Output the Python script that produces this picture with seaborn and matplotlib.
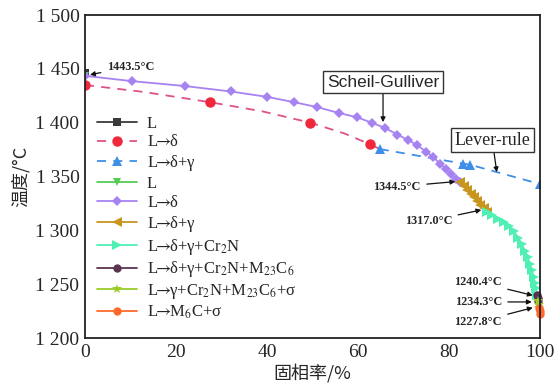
import matplotlib
matplotlib.use("Agg")
import matplotlib.pyplot as plt
import seaborn as sns
import pandas as pd

sns.set_style("white")
plt.rcParams["font.family"] = ["Liberation Serif", "DejaVu Serif"]
plt.rcParams["mathtext.fontset"] = "stix"

# Lever-rule path
lever_d_fs = [0, 13, 27.5, 39, 49.5, 57, 62.6, 64.8]
lever_d_T = [1435, 1428.5, 1419, 1410.5, 1400, 1390, 1380, 1375.5]
lever_dg_fs = [64.8, 83.0, 84.6, 100]
lever_dg_T = [1375.5, 1362, 1361, 1343]

# Scheil-Gulliver path
scheil_L_fs = [0]
scheil_L_T = [1446]
scheil_L2_fs = [0]
scheil_L2_T = [1443.5]
scheil_d_fs = [0, 10.3, 22, 32, 40, 46, 51, 55.8, 59.8, 63, 66, 68.6, 71, 73, 75,
               76.5, 78, 79.3, 80.5, 81.5, 82.4]
scheil_d_T = [1443.5, 1438.6, 1434, 1429, 1424, 1419, 1414.5, 1409, 1405, 1400,
              1395, 1389, 1384, 1379, 1373, 1368, 1362, 1357, 1352, 1348, 1344.5]
scheil_dg_fs = [82.4, 83.2, 84.0, 84.8, 85.5, 86.2, 86.9, 87.6, 88.3]
scheil_dg_T = [1344.5, 1341, 1337.5, 1334, 1331, 1327.5, 1324, 1320.5, 1317.0]
scheil_cr2n_fs = [88.3, 89.5, 90.8, 92.0, 93.2, 94.3, 95.2, 96.0, 96.7, 97.3,
                  97.8, 98.2, 98.6, 98.9, 99.1, 99.3]
scheil_cr2n_T = [1317.0, 1314, 1311, 1308, 1304, 1299, 1293, 1287, 1281, 1275,
                 1269, 1263, 1257, 1251, 1246, 1240.4]
scheil_m23_fs = [99.3, 99.45, 99.6]
scheil_m23_T = [1240.4, 1237.3, 1234.3]
scheil_sig_fs = [99.6, 99.7, 99.8]
scheil_sig_T = [1234.3, 1231.0, 1227.8]
scheil_m6c_fs = [99.8, 99.9, 100]
scheil_m6c_T = [1227.8, 1225, 1222]

y_ticks = [1200, 1250, 1300, 1350, 1400, 1450, 1500]
y_labels = ["1 200", "1 250", "1 300", "1 350", "1 400", "1 450", "1 500"]
x_ticks = [0, 20, 40, 60, 80, 100]

fig = plt.figure(figsize=(5.57, 3.90), dpi=100)
ax = fig.add_axes([0.1526, 0.1333, 0.8169, 0.8282])

AR = r"$\!\!\rightarrow\!\!$"
series = [
    (scheil_L_fs, scheil_L_T, "L", "#3a3a3a", "-", "s", 6, None, True),
    (lever_d_fs, lever_d_T, f"L{AR}δ", "#e0508a", (0, (5, 4)), "o", 7.5, [0, 2, 4, 6], True),
    (lever_dg_fs, lever_dg_T, f"L{AR}δ+γ", "#3f8fe8", (0, (5, 4)), "^", 7, None, True),
    (scheil_L2_fs, scheil_L2_T, "L", "#55cc55", "-", "v", 6, None, True),
    (scheil_d_fs, scheil_d_T, f"L{AR}δ", "#a783f2", "-", "D", 5.5, None, True),
    (scheil_dg_fs, scheil_dg_T, f"L{AR}δ+γ", "#c8961e", "-", "<", 6.5, None, True),
    (scheil_cr2n_fs, scheil_cr2n_T, f"L{AR}δ+γ+Cr$_2$N", "#50f0b4", "-", ">", 6.5, None, True),
    (scheil_m23_fs, scheil_m23_T, f"L{AR}δ+γ+Cr$_2$N+M$_{{23}}$C$_6$", "#5a3552", "-", "o", 6, None, False),
    (scheil_sig_fs, scheil_sig_T, f"L{AR}γ+Cr$_2$N+M$_{{23}}$C$_6$+σ", "#9ccc2a", "-", "*", 7, None, False),
    (scheil_m6c_fs, scheil_m6c_T, f"L{AR}M$_6$C+σ", "#ff6a2a", "-", "o", 6, None, False),
]

for fs, T, lab, col, ls, mk, ms, every, clip in series:
    df = pd.DataFrame({"fs": fs, "T": T})
    mfc = "#f0283c" if col == "#e0508a" else col
    kw = dict(marker=mk, markersize=ms, markerfacecolor=mfc, markeredgecolor=mfc,
              markeredgewidth=0, linewidth=1.3, clip_on=clip)
    if every is not None:
        kw["markevery"] = every
    sns.lineplot(data=df, x="fs", y="T", ax=ax, color=col, linestyle=ls,
                 label=lab, sort=False, estimator=None, **kw)

ax.set_xlim(0, 100)
ax.set_ylim(1200, 1500)
ax.set_xticks(x_ticks)
ax.set_xticklabels([str(v) for v in x_ticks])
ax.set_yticks(y_ticks)
ax.set_yticklabels(y_labels)
ax.tick_params(direction="in", length=4, width=1.2, labelsize=14, pad=4)
for sp in ax.spines.values():
    sp.set_linewidth(1.3)
    sp.set_color("#222222")

ax.set_xlabel("固相率/%", fontsize=13, family=["Noto Sans CJK SC", "DejaVu Sans"], labelpad=2)
ax.set_ylabel("温度/°C", fontsize=13, family=["Noto Sans CJK SC", "DejaVu Sans"], labelpad=4)

leg = ax.legend(loc="upper left", bbox_to_anchor=(0.0, 0.725), frameon=False,
                fontsize=12, handlelength=2.4, labelspacing=0.17, handletextpad=0.6,
                borderaxespad=0.3)

arrow = dict(arrowstyle="-|>", color="#111111", lw=0.9, mutation_scale=7)
ann_font = dict(fontsize=8.8, fontweight="bold")

ax.annotate("1443.5°C", xy=(0.5, 1444), xytext=(4.8, 1452), ha="left", va="center",
            arrowprops=arrow, **ann_font)
ax.annotate("1344.5°C", xy=(82.0, 1345.5), xytext=(73.8, 1340.5), ha="right", va="center",
            arrowprops=arrow, **ann_font)
ax.annotate("1317.0°C", xy=(87.7, 1319.5), xytext=(80.7, 1308.5), ha="right", va="center",
            arrowprops=arrow, **ann_font)
ax.annotate("1240.4°C", xy=(99.0, 1239), xytext=(91.6, 1252), ha="right", va="center",
            arrowprops=arrow, **ann_font)
ax.annotate("1234.3°C", xy=(98.8, 1233.5), xytext=(91.6, 1233.5), ha="right", va="center",
            arrowprops=arrow, **ann_font)
ax.annotate("1227.8°C", xy=(99.0, 1228.8), xytext=(91.6, 1215), ha="right", va="center",
            arrowprops=arrow, **ann_font)

box = dict(boxstyle="square,pad=0.2", fc="white", ec="#333333", lw=1.0)
ax.annotate("Scheil-Gulliver", xy=(65.5, 1400.5), xytext=(65.5, 1437.7), ha="center",
            va="center", fontsize=12.5, family=["Liberation Sans", "DejaVu Sans"], bbox=box,
            arrowprops=dict(arrowstyle="-|>", color="#111111", lw=0.9, mutation_scale=7,
                            shrinkA=0, shrinkB=0))
ax.annotate("Lever-rule", xy=(90.5, 1354), xytext=(89.5, 1383.8), ha="center",
            va="center", fontsize=13, bbox=box,
            arrowprops=dict(arrowstyle="-|>", color="#111111", lw=0.9, mutation_scale=7,
                            shrinkA=0, shrinkB=0))

fig.savefig("out.png", dpi=100)
